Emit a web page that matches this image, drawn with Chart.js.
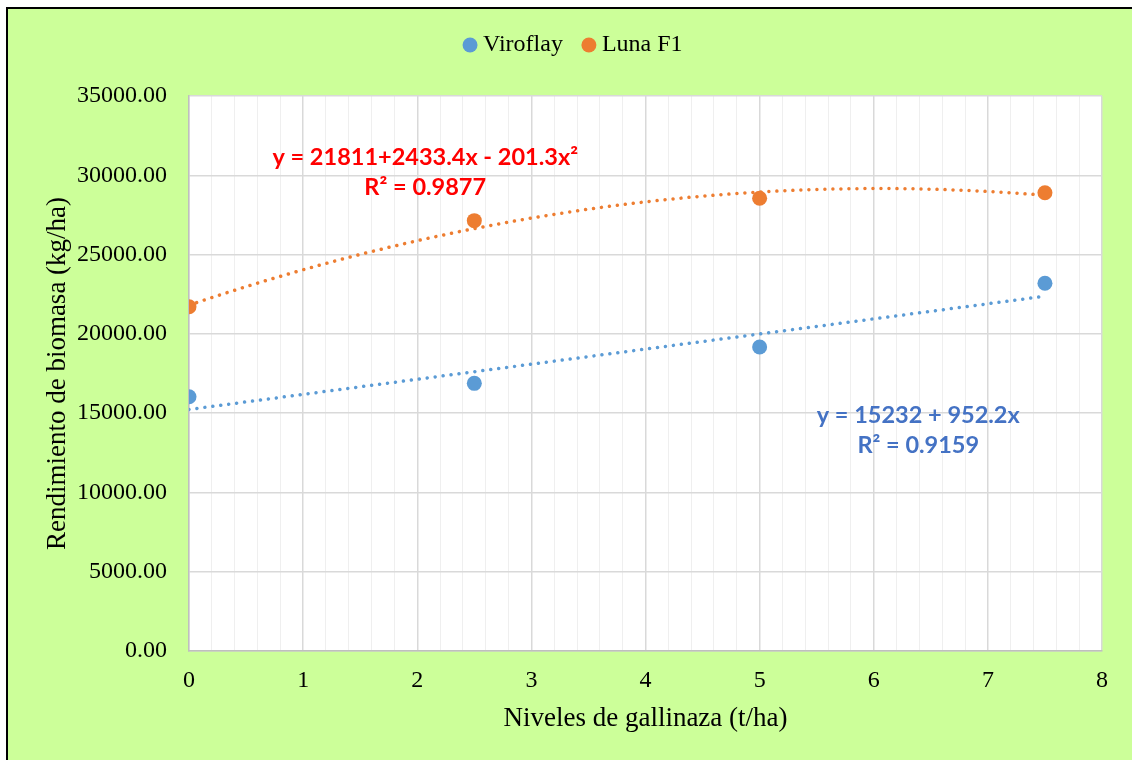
<!DOCTYPE html>
<html>
<head>
<meta charset="utf-8">
<title>Rendimiento de biomasa</title>
<script src="https://cdn.jsdelivr.net/npm/chart.js@4/dist/chart.umd.min.js"></script>
<style>
  html, body { margin: 0; padding: 0; background: #ffffff; width: 1132px; height: 760px; overflow: hidden; }
  #frame { position: absolute; left: 6px; top: 7px; width: 1140px; height: 770px;
           background: #CCFF99; border-left: 2.5px solid #000; border-top: 2.5px solid #000; }
  #wrap { position: absolute; left: 0; top: 0; width: 1132px; height: 760px; }
</style>
</head>
<body>
<div id="frame"></div>
<div id="wrap"><canvas id="chart" width="1132" height="760"></canvas></div>
<script>
// Levels of poultry manure (t/ha) and biomass yield (kg/ha) per variety
const levels   = [0, 2.5, 5, 7.5];
const viroflay = [16030, 16880, 19170, 23190];
const lunaF1   = [21710, 27140, 28550, 28900];
const seriesNames = ['Viroflay', 'Luna F1'];

// Trendline coefficients (constant, x, x^2) and their printed equations
const viroflayFit = [15232, 952.2];
const lunaFit     = [21811, 2433.4, -201.3];
const viroflayEq  = ['y = 15232 + 952.2x', 'R² = 0.9159'];
const lunaEq      = ['y = 21811+2433.4x - 201.3x²', 'R² = 0.9877'];

// Axis ticks
const xTickValues = [0, 1, 2, 3, 4, 5, 6, 7, 8];
const xMinorPerUnit = 5;
const yTickValues = [0, 5000, 10000, 15000, 20000, 25000, 30000, 35000];

const BLUE = '#5B9BD5', ORANGE = '#ED7D31';
const SERIF = "'Liberation Serif', 'Times New Roman', serif";

function polyAt(coefs, x) {
  return coefs.reduce((s, c, i) => s + c * Math.pow(x, i), 0);
}
function trendPoints(coefs) {
  const pts = [];
  const x0 = levels[0], x1 = levels[levels.length - 1];
  const n = 60;
  for (let i = 0; i <= n; i++) {
    const x = x0 + (x1 - x0) * i / n;
    pts.push({ x, y: polyAt(coefs, x) });
  }
  return pts;
}
const toXY = (ys) => levels.map((x, i) => ({ x, y: ys[i] }));

// full set of vertical grid positions (major + minor)
const xGridValues = [];
for (let i = 0; i <= (xTickValues[xTickValues.length - 1] - xTickValues[0]) * xMinorPerUnit; i++) {
  xGridValues.push(xTickValues[0] + i / xMinorPerUnit);
}
const isWhole = v => Math.abs(v - Math.round(v)) < 1e-6;

// white plot area
const plotBackground = {
  id: 'plotBackground',
  beforeDraw(chart) {
    const { ctx, chartArea: a } = chart;
    ctx.save();
    ctx.fillStyle = '#ffffff';
    ctx.fillRect(a.left, a.top, a.right - a.left, a.bottom - a.top);
    ctx.restore();
  }
};

// extra space under the legend, and a small horizontal nudge of its row
let legendGap = 30;
const legendShift = 6;
const legendSpacing = {
  id: 'legendSpacing',
  beforeLayout(chart) {
    const lg = chart.legend;
    if (lg && !lg.__spaced) {
      const fit = lg.fit;
      lg.fit = function () { fit.call(this); if (this.options.display) this.height += legendGap; };
      lg.__spaced = true;
    }
  },
  afterLayout(chart) {
    const lg = chart.legend;
    if (lg) { lg.left += legendShift; lg.right += legendShift; }
  }
};

// trendline equations, anchored in data coordinates
const equations = {
  id: 'equations',
  afterDatasetsDraw(chart) {
    const { ctx, scales: { x, y } } = chart;
    const blocks = [
      { lines: lunaEq, color: '#FF0000', at: [2.07, 31100] },
      { lines: viroflayEq, color: '#4472C4', at: [6.39, 14880] }
    ];
    ctx.save();
    ctx.font = "bold 23.5px Lato, 'Open Sans', sans-serif";
    ctx.textAlign = 'center';
    ctx.textBaseline = 'middle';
    blocks.forEach(b => {
      const px = x.getPixelForValue(b.at[0]);
      const py = y.getPixelForValue(b.at[1]);
      ctx.fillStyle = b.color;
      b.lines.forEach((t, i) => ctx.fillText(t, px, py + i * 30));
    });
    ctx.restore();
  }
};

const pad = { left: 40, right: 30, top: 8, bottom: 10 };

const config = {
  type: 'scatter',
  data: {
    datasets: [
      { label: seriesNames[0], data: toXY(viroflay), backgroundColor: BLUE, borderColor: BLUE,
        pointRadius: 7.5, pointHoverRadius: 7.5, pointBorderWidth: 0, order: 0 },
      { label: seriesNames[1], data: toXY(lunaF1), backgroundColor: ORANGE, borderColor: ORANGE,
        pointRadius: 7.5, pointHoverRadius: 7.5, pointBorderWidth: 0, order: 0 },
      { label: 'trend ' + seriesNames[0], data: trendPoints(viroflayFit), showLine: true,
        borderColor: BLUE, borderWidth: 3.5, borderDash: [0.01, 8], borderCapStyle: 'round',
        pointRadius: 0, pointHoverRadius: 0, fill: false, order: 1, tension: 0 },
      { label: 'trend ' + seriesNames[1], data: trendPoints(lunaFit), showLine: true,
        borderColor: ORANGE, borderWidth: 3.5, borderDash: [0.01, 8], borderCapStyle: 'round',
        pointRadius: 0, pointHoverRadius: 0, fill: false, order: 1, tension: 0 }
    ]
  },
  options: {
    responsive: false,
    animation: false,
    devicePixelRatio: 1,
    layout: { padding: pad },
    plugins: {
      tooltip: { enabled: false },
      legend: {
        display: true,
        position: 'top',
        labels: {
          filter: item => item.datasetIndex < 2,
          usePointStyle: true,
          pointStyle: 'circle',
          boxWidth: 2,
          boxHeight: 10.6,
          padding: 25,
          color: '#000',
          font: { family: SERIF, size: 24 }
        }
      }
    },
    scales: {
      x: {
        type: 'linear',
        min: xTickValues[0],
        max: xTickValues[xTickValues.length - 1],
        afterBuildTicks: s => { s.ticks = xGridValues.map(v => ({ value: v })); },
        ticks: {
          autoSkip: false,
          maxRotation: 0,
          padding: 1,
          color: '#000',
          font: { family: SERIF, size: 24 },
          callback: v => (isWhole(v) && xTickValues.includes(Math.round(v))) ? String(Math.round(v)) : ''
        },
        grid: {
          drawTicks: true,
          tickLength: 14,
          tickColor: 'rgba(0,0,0,0)',
          color: ctx => (ctx.tick && isWhole(ctx.tick.value)) ? '#D9D9D9' : '#EFEFEF',
          lineWidth: ctx => (ctx.tick && isWhole(ctx.tick.value)) ? 1.5 : 1
        },
        border: { display: true, color: '#BFBFBF', width: 1.5 },
        title: {
          display: true,
          text: 'Niveles de gallinaza (t/ha)',
          color: '#000',
          font: { family: SERIF, size: 27 },
          padding: { top: 7, bottom: 4 }
        }
      },
      y: {
        type: 'linear',
        min: yTickValues[0],
        max: yTickValues[yTickValues.length - 1],
        afterBuildTicks: s => { s.ticks = yTickValues.map(v => ({ value: v })); },
        ticks: {
          padding: 2,
          color: '#000',
          font: { family: SERIF, size: 24 },
          callback: v => Number(v).toFixed(2)
        },
        grid: { drawTicks: true, tickLength: 20, tickColor: 'rgba(0,0,0,0)', color: '#D9D9D9', lineWidth: 1.5 },
        border: { display: true, color: '#BFBFBF', width: 1.5 },
        title: {
          display: true,
          text: 'Rendimiento de biomasa (kg/ha)',
          color: '#000',
          font: { family: SERIF, size: 27 },
          padding: { top: 4, bottom: 1 }
        }
      }
    }
  },
  plugins: [plotBackground, legendSpacing, equations]
};

const chart = new Chart(document.getElementById('chart'), config);

// settle the plot frame at its intended place on the page
const frameBox = { left: 189, right: 1102, top: 96, bottom: 651 };
for (let k = 0; k < 4; k++) {
  const a = chart.chartArea;
  pad.left += frameBox.left - a.left;
  pad.right += a.right - frameBox.right;
  pad.bottom += a.bottom - frameBox.bottom;
  legendGap += frameBox.top - a.top;
  chart.update('none');
}
</script>
</body>
</html>
